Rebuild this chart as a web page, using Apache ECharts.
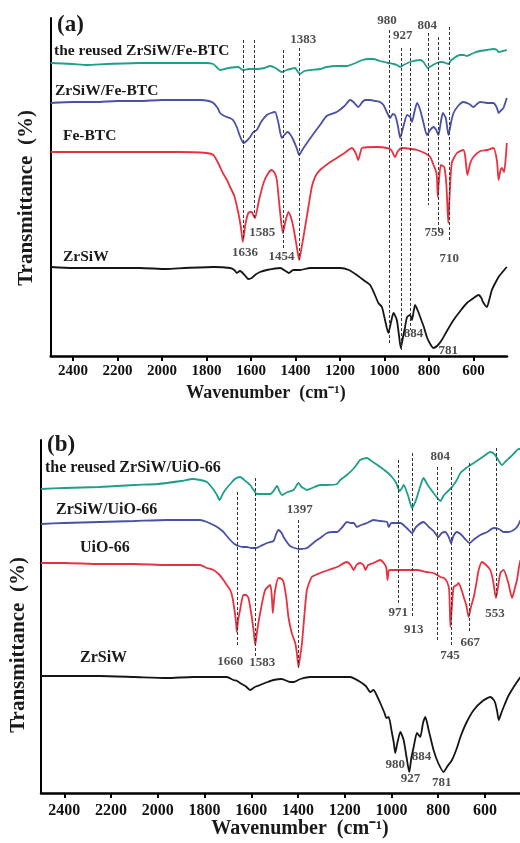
<!DOCTYPE html>
<html>
<head>
<meta charset="utf-8">
<script src="https://cdn.jsdelivr.net/npm/echarts@6/dist/echarts.min.js"></script>
<style>
  html, body { margin: 0; padding: 0; background: #fff; }
  #chart { width: 520px; height: 843px; }
</style>
</head>
<body>
<div id="chart"></div>
<script>
// Wavenumber tick labels (cm-1)
const tickValues = [600, 800, 1000, 1200, 1400, 1600, 1800, 2000, 2200, 2400];

// ---- Panel (a): FT-IR spectra, [wavenumber, offset transmittance] ----
const aReused = [[2500,293],[2400,292],[2338,291],[2250,292],[2100,293],[1924,293],[1800,293],[1770,292],[1755,289],[1739,286],[1720,287],[1700,288],[1657,289],[1637,286],[1610,287],[1573,287],[1540,288],[1514,290],[1490,288],[1462,284],[1440,286],[1424,287],[1402,288],[1392,285],[1380,282],[1360,285],[1330,286],[1290,287],[1260,289],[1215,290],[1170,290],[1130,293],[1100,296],[1070,297],[1051,297],[1020,295],[1000,294],[984,293],[960,292],[945,291],[930,289],[915,291],[885,294],[840,296],[825,294],[806,288],[790,290],[765,293],[743,294],[725,293],[713,292],[700,296],[660,301],[645,301],[630,300],[600,303],[571,305],[540,306],[511,307],[495,306],[488,304],[470,305],[451,306]];

const aComposite = [[2500,253],[2400,254],[2300,254],[2200,255],[2100,255],[2000,256],[1900,256],[1829,256],[1790,255],[1769,253],[1750,248],[1739,243],[1720,240],[1708,239],[1695,238],[1681,236],[1664,229],[1650,220],[1634,213],[1620,215],[1604,219],[1590,224],[1574,226],[1555,234],[1529,241],[1510,243],[1492,244],[1477,233],[1462,218],[1450,221],[1437,224],[1425,222],[1410,216],[1395,208],[1384,201],[1370,206],[1349,213],[1320,222],[1290,231],[1260,240],[1215,244],[1180,250],[1155,256],[1140,254],[1118,249],[1100,254],[1087,256],[1065,256],[1040,255],[1020,254],[1005,251],[990,244],[975,238],[963,242],[953,241],[940,230],[930,218],[915,230],[899,241],[885,239],[877,234],[865,245],[854,253],[840,246],[825,233],[810,221],[795,226],[780,229],[768,226],[758,221],[748,233],[738,243],[725,238],[713,221],[700,235],[690,243],[670,250],[646,254],[620,252],[601,249],[585,252],[571,254],[540,253],[511,253],[495,248],[488,243],[475,246],[466,248],[451,258]];

const aFeBTC = [[2500,204],[2400,204],[2300,204],[2200,204],[2100,204],[2000,204],[1924,204],[1800,203],[1769,201],[1750,194],[1724,182],[1708,176],[1694,169],[1675,160],[1657,143],[1645,128],[1637,114],[1625,132],[1612,143],[1597,144],[1588,140],[1582,138],[1565,155],[1544,173],[1525,182],[1507,186],[1494,183],[1484,176],[1469,143],[1457,123],[1445,135],[1432,144],[1420,138],[1410,129],[1395,110],[1384,96],[1370,112],[1357,129],[1340,152],[1327,169],[1310,180],[1290,186],[1250,193],[1215,198],[1180,203],[1147,208],[1130,203],[1118,196],[1108,204],[1102,208],[1035,209],[990,208],[970,206],[953,199],[940,205],[922,208],[880,207],[854,206],[820,203],[795,199],[780,191],[768,184],[764,175],[761,159],[757,172],[747,191],[732,189],[722,170],[714,133],[708,160],[698,193],[675,203],[646,206],[638,200],[628,181],[615,193],[601,199],[570,205],[540,206],[511,208],[495,195],[488,176],[480,185],[473,188],[463,184],[455,200],[451,213]];

const aZrSiW = [[2500,89],[2400,88],[2300,88],[2200,88],[2100,88],[1979,87],[1900,88],[1769,89],[1694,88],[1675,86],[1664,83],[1650,85],[1642,84],[1625,80],[1612,77],[1597,78],[1582,81],[1560,84],[1529,86],[1469,88],[1445,85],[1430,83],[1410,86],[1380,86],[1335,88],[1250,88],[1200,88],[1160,86],[1125,81],[1095,76],[1065,71],[1045,62],[1028,53],[1012,49],[998,36],[983,23],[970,35],[960,43],[945,36],[935,20],[927,8],[918,18],[908,29],[899,39],[885,41],[877,36],[863,51],[850,45],[840,39],[825,30],[810,19],[795,12],[780,8],[760,11],[743,16],[720,25],[690,36],[660,45],[630,53],[600,58],[578,61],[565,58],[558,54],[540,49],[530,56],[518,66],[505,72],[488,79],[470,84],[451,89]];

// Assigned bands in panel (a)
const aBandLines = [1636, 1585, 1454, 1383, 980, 927, 884, 804, 759, 710];
const aBandLabels = [1383, 980, 927, 804, 1636, 1585, 1454, 759, 710, 884, 781];

// ---- Panel (b): FT-IR spectra ----
const bReused = [[2500,304],[2400,305],[2250,306],[2100,308],[2000,309],[1900,312],[1850,314],[1819,313],[1790,311],[1770,306],[1755,301],[1747,298],[1736,293],[1720,300],[1705,305],[1690,309],[1670,314],[1648,316],[1625,312],[1605,308],[1590,303],[1576,299],[1545,299],[1519,299],[1505,302],[1490,307],[1480,302],[1469,298],[1445,301],[1419,303],[1398,310],[1385,306],[1377,305],[1362,303],[1340,305],[1305,308],[1276,308],[1233,309],[1219,313],[1191,318],[1160,325],[1134,333],[1105,335],[1080,331],[1048,326],[1020,321],[998,316],[980,310],[965,302],[955,305],[948,308],[930,298],[912,285],[900,290],[891,296],[875,308],[863,315],[845,308],[820,300],[800,294],[791,292],[775,298],[762,301],[741,306],[720,313],[705,320],[680,325],[648,330],[610,336],[577,341],[560,339],[548,335],[527,328],[510,332],[491,336],[470,341],[456,344],[448,344]];

const bComposite = [[2500,269],[2400,270],[2250,271],[2100,272],[1962,273],[1819,273],[1790,271],[1762,268],[1740,265],[1719,261],[1705,257],[1690,253],[1672,249],[1655,247],[1635,246],[1619,246],[1600,245],[1579,245],[1560,247],[1533,250],[1505,252],[1495,258],[1484,263],[1470,260],[1462,256],[1445,250],[1434,247],[1415,245],[1394,244],[1362,245],[1330,251],[1305,255],[1276,260],[1250,261],[1233,261],[1210,266],[1191,271],[1175,270],[1162,270],[1148,266],[1130,268],[1105,270],[1077,273],[1050,272],[1019,271],[1012,266],[1000,270],[962,270],[935,265],[912,260],[895,266],[863,271],[840,266],[820,262],[800,256],[785,260],[770,261],[755,256],[745,250],[735,257],[720,261],[700,258],[685,254],[666,250],[645,254],[620,258],[590,261],[563,265],[540,264],[520,261],[500,261],[477,263],[460,267],[448,273]];

const bUiO66 = [[2500,230],[2400,230],[2250,229],[2100,229],[1962,228],[1819,228],[1790,225],[1762,223],[1740,219],[1719,213],[1705,208],[1690,203],[1680,195],[1672,183],[1666,172],[1662,161],[1657,172],[1648,183],[1634,198],[1622,198],[1612,195],[1598,176],[1590,162],[1583,148],[1575,162],[1562,180],[1541,203],[1519,208],[1512,196],[1508,180],[1503,192],[1498,203],[1484,215],[1470,214],[1462,211],[1450,195],[1441,176],[1427,160],[1412,150],[1405,140],[1398,126],[1390,138],[1383,150],[1372,180],[1362,203],[1341,216],[1305,220],[1270,223],[1233,226],[1191,231],[1175,228],[1162,223],[1150,228],[1134,230],[1120,228],[1112,223],[1100,228],[1077,230],[1048,233],[1030,229],[1022,225],[1017,213],[1012,222],[1005,223],[960,223],[891,223],[850,221],[820,220],[791,216],[775,215],[762,211],[753,203],[748,166],[742,185],[734,206],[720,208],[713,210],[700,203],[691,196],[680,188],[670,176],[660,186],[648,196],[635,212],[627,223],[613,231],[595,228],[577,223],[565,212],[553,195],[545,205],[534,220],[520,223],[500,210],[484,195],[475,202],[463,213],[455,225],[448,233]];

const bZrSiW = [[2500,117],[2400,117],[2250,117],[2100,116],[1962,115],[1850,116],[1705,116],[1676,113],[1660,112],[1648,110],[1625,107],[1605,103],[1585,106],[1562,108],[1530,111],[1505,113],[1470,114],[1434,111],[1419,111],[1390,114],[1348,116],[1300,116],[1250,116],[1191,116],[1177,116],[1140,112],[1110,107],[1091,101],[1077,103],[1060,96],[1048,90],[1030,80],[1022,75],[1012,76],[998,60],[990,50],[984,40],[975,50],[962,61],[948,53],[935,35],[924,21],[915,35],[905,46],[891,60],[877,56],[865,70],[855,76],[841,63],[820,43],[800,30],[777,21],[760,27],[741,33],[720,45],[705,56],[680,70],[648,83],[610,92],[577,96],[562,93],[556,90],[548,82],[541,73],[530,80],[520,86],[500,97],[477,106],[460,112],[448,116]];

// Assigned bands in panel (b)
const bBandLines = [1660, 1583, 1397, 971, 913, 804, 745, 667, 553];
const bBandLabels = [1397, 804, 971, 913, 745, 667, 553, 1660, 1583, 980, 927, 884, 781];

// ---- Layout: vertical extent of each dashed guide, label anchor height and x nudge ----
const aLineSpan = {1636:[316,116],1585:[316,136],1454:[306,108],1383:[308,96],980:[326,11],927:[308,6],884:[308,26],804:[323,151],759:[319,124],710:[329,116]};
const aLabelPos = {1383:[316,4],980:[335,-2],927:[320,2],804:[330,-1],1636:[103,2],1585:[123,8],1454:[99,-2],759:[123,-4],710:[97,0],884:[22,3],781:[5,15]};
const bLineSpan = {1660:[301,148],1583:[315,136],1397:[273,123],971:[333,190],913:[340,176],804:[326,151],745:[326,146],667:[330,160],553:[345,195]};
const bLabelPos = {1397:[283,1],804:[336,3],971:[180,0],913:[163,2],745:[137,-1],667:[150,1],553:[179,-1],1660:[131,-7],1583:[130,7],980:[28,-1],927:[14,2],884:[36,3],781:[10,-1]};

const SERIF = '"Liberation Serif", "Times New Roman", serif';
const COLORS = { reused: '#1f9e88', composite: '#4a50a6', parent: '#e63240', zrsiw: '#151515' };

function makeXAxis(gi, fontSize, margin) {
  return {
    type: 'value', gridIndex: gi, min: 450, max: 2500, inverse: true,
    axisLine: { show: true, onZero: false, lineStyle: { color: '#000', width: 2.5 } },
    axisTick: { show: true, length: 5, customValues: tickValues, lineStyle: { color: '#000', width: 2 } },
    axisLabel: { customValues: tickValues, formatter: v => String(v), color: '#111', fontFamily: SERIF, fontWeight: 'bold', fontSize: fontSize, margin: margin },
    splitLine: { show: false }
  };
}
function makeYAxis(gi, max) {
  return {
    type: 'value', gridIndex: gi, min: 0, max: max,
    axisLine: { show: true, onZero: false, lineStyle: { color: '#000', width: 2 } },
    axisTick: { show: false }, axisLabel: { show: false }, splitLine: { show: false }
  };
}
function spectrum(gi, data, color) {
  return {
    type: 'line', xAxisIndex: gi, yAxisIndex: gi, data: data, showSymbol: false,
    smooth: 0.2, lineStyle: { color: color, width: 1.8 }, silent: true, z: 3
  };
}
function guides(gi, bands, span) {
  return {
    type: 'line', xAxisIndex: gi, yAxisIndex: gi, data: [], silent: true,
    markLine: {
      silent: true, symbol: 'none', animation: false, label: { show: false },
      lineStyle: { type: [3, 2], color: '#333', width: 1 },
      data: bands.map(w => [{ coord: [w, span[w][0]] }, { coord: [w, span[w][1]] }])
    }
  };
}
function bandLabels(gi, bands, pos) {
  return {
    type: 'scatter', xAxisIndex: gi, yAxisIndex: gi, symbolSize: 1, silent: true, z: 5,
    itemStyle: { color: 'rgba(0,0,0,0)' },
    data: bands.map(w => ({ value: [w, pos[w][0]], label: { offset: [pos[w][1], 0] } })),
    label: {
      show: true, position: 'inside', formatter: p => String(p.value[0]),
      fontFamily: SERIF, fontWeight: 'bold', fontSize: 13, color: '#222'
    }
  };
}
function txt(x, y, text, size, opts) {
  opts = opts || {};
  return {
    type: 'text', x: x, y: y, silent: true, rotation: opts.rotation || 0,
    style: {
      text: text, fontFamily: SERIF, fontWeight: 'bold', fontSize: size, fill: '#1a1a1a',
      align: opts.align || 'left', verticalAlign: 'middle'
    }
  };
}

const chart = echarts.init(document.getElementById('chart'));
chart.setOption({
  animation: false,
  backgroundColor: '#fff',
  grid: [
    { left: 50.7, right: 13, top: 18, bottom: 487, outerBoundsMode: 'none' },
    { left: 41, right: 0, top: 440, bottom: 50, outerBoundsMode: 'none' }
  ],
  xAxis: [makeXAxis(0, 15, 8), makeXAxis(1, 16, 10)],
  yAxis: [makeYAxis(0, 338), makeYAxis(1, 353)],
  series: [
    guides(0, aBandLines, aLineSpan),
    spectrum(0, aReused, COLORS.reused),
    spectrum(0, aComposite, COLORS.composite),
    spectrum(0, aFeBTC, COLORS.parent),
    spectrum(0, aZrSiW, COLORS.zrsiw),
    bandLabels(0, aBandLabels, aLabelPos),
    guides(1, bBandLines, bLineSpan),
    spectrum(1, bReused, COLORS.reused),
    spectrum(1, bComposite, COLORS.composite),
    spectrum(1, bUiO66, COLORS.parent),
    spectrum(1, bZrSiW, COLORS.zrsiw),
    bandLabels(1, bBandLabels, bLabelPos)
  ],
  graphic: [
    txt(57, 25, '(a)', 23),
    txt(54, 51, 'the reused ZrSiW/Fe-BTC', 15.5),
    txt(55, 91, 'ZrSiW/Fe-BTC', 15.5),
    txt(63, 136, 'Fe-BTC', 15.5),
    txt(63, 257, 'ZrSiW', 15.5),
    txt(27, 198, 'Transmittance  (%)', 21, { rotation: Math.PI / 2, align: 'center' }),
    txt(266, 393, 'Wavenumber  (cm\u207B\u00B9)', 18, { align: 'center' }),

    txt(47, 445, '(b)', 23),
    txt(45, 468, 'the reused ZrSiW/UiO-66', 16),
    txt(56, 510, 'ZrSiW/UiO-66', 16),
    txt(80, 548, 'UiO-66', 16),
    txt(80, 658, 'ZrSiW', 16),
    txt(19, 645, 'Transmittance  (%)', 21, { rotation: Math.PI / 2, align: 'center' }),
    txt(300, 829, 'Wavenumber  (cm\u207B\u00B9)', 20, { align: 'center' })
  ]
});
</script>
</body>
</html>
